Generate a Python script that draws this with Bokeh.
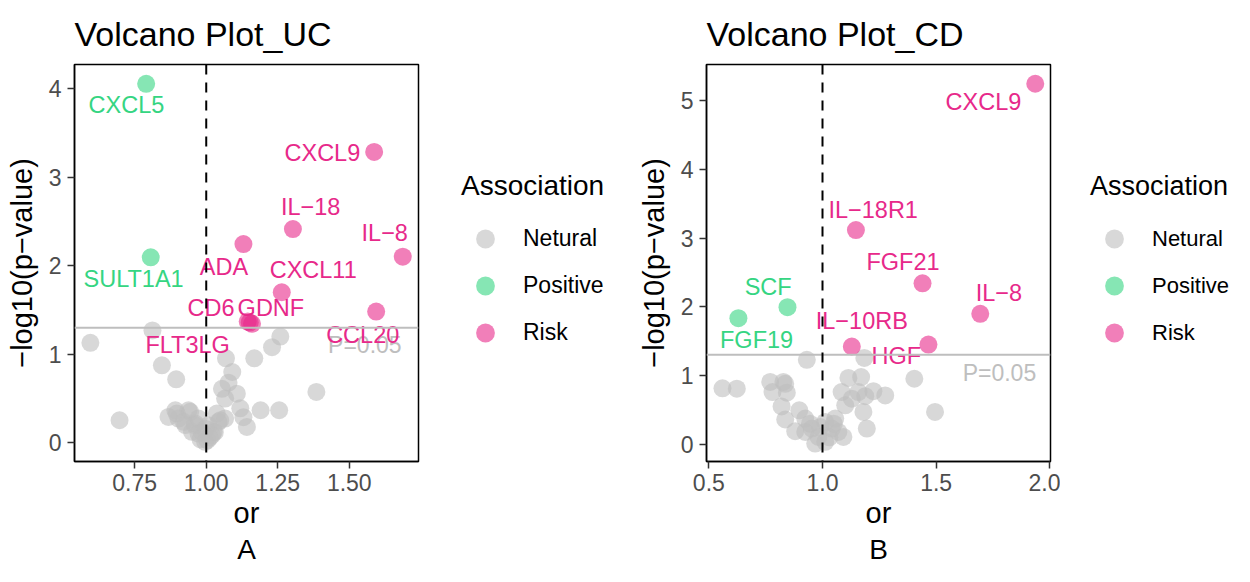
from bokeh.plotting import figure
from bokeh.models import (Range1d, FixedTicker, Span, Legend, LegendItem, Title,
                          ColumnDataSource, CustomJSTickFormatter)
from bokeh.layouts import row
from bokeh.core.properties import value
from bokeh.embed import file_html
from bokeh.resources import INLINE

FONT = "Liberation Sans"
CATEGORIES = ["Netural", "Positive", "Risk"]
COLORS = {"Netural": "#BEBEBE", "Positive": "#35D582", "Risk": "#E7298A"}

# ---------------- UC data ----------------
uc_neu_x = [0.595, 0.812, 0.845, 0.895, 0.697, 1.069, 1.091, 1.168, 1.230, 1.259,
            1.385, 1.255, 1.190, 1.055, 1.078, 1.107, 1.066, 1.119, 1.130, 1.142,
            0.892, 0.897, 0.938, 0.944, 0.903, 0.921, 0.927, 0.950, 0.962, 0.973,
            0.973, 0.996, 1.004, 1.008, 1.020, 1.026, 1.037, 1.043, 1.049, 1.066,
            0.868, 0.985, 1.030, 0.960, 0.997, 1.012, 0.980]
uc_neu_y = [1.130, 1.270, 0.875, 0.717, 0.255, 0.955, 0.800, 0.955, 1.080, 1.200,
            0.575, 0.368, 0.368, 0.610, 0.680, 0.555, 0.500, 0.390, 0.290, 0.180,
            0.368, 0.330, 0.368, 0.350, 0.274, 0.237, 0.200, 0.124, 0.217, 0.105,
            0.274, 0.011, 0.030, 0.199, 0.086, 0.124, 0.330, 0.237, 0.255, 0.274,
            0.293, 0.120, 0.120, 0.200, 0.160, 0.060, 0.040]
uc_pos_x = [0.790, 0.806]
uc_pos_y = [4.056, 2.096]
uc_risk_x = [1.587, 1.303, 1.687, 1.130, 1.264, 1.594, 1.145, 1.160, 1.152]
uc_risk_y = [3.286, 2.415, 2.103, 2.246, 1.701, 1.483, 1.370, 1.345, 1.360]
uc_lab_text = ["CXCL5", "SULT1A1", "CXCL9", "IL\u221218", "IL\u22128", "ADA",
               "CXCL11", "CD6", "GDNF", "CCL20", "FLT3LG"]
uc_lab_cat = ["Positive", "Positive", "Risk", "Risk", "Risk", "Risk",
              "Risk", "Risk", "Risk", "Risk", "Risk"]
uc_lab_x = [0.721, 0.746, 1.406, 1.365, 1.624, 1.062, 1.374, 1.017, 1.226, 1.547, 0.935]
uc_lab_y = [3.815, 1.848, 3.273, 2.659, 2.375, 1.983, 1.953, 1.523, 1.523, 1.222, 1.105]
uc_xticks = [0.75, 1.00, 1.25, 1.50]
uc_yticks = [0, 1, 2, 3, 4]
uc_pval_x = [1.683]
uc_pval_y = [1.107]

# ---------------- CD data ----------------
cd_neu_x = [0.560, 0.623, 0.770, 0.828, 0.836, 0.843, 0.780, 0.931, 0.820, 0.898,
            0.836, 0.880, 1.184, 1.114, 1.170, 1.084, 1.129, 1.188, 1.224, 1.276,
            1.404, 1.180, 1.195, 1.495, 1.158, 1.100, 0.924, 0.953, 0.982, 1.012,
            1.041, 1.070, 0.968, 1.056, 1.092, 1.012, 0.924, 0.990, 1.030, 1.050, 0.945]
cd_neu_y = [0.813, 0.808, 0.906, 0.906, 0.880, 0.750, 0.760, 1.229, 0.550, 0.494,
            0.360, 0.190, 1.256, 0.965, 0.978, 0.760, 0.663, 0.700, 0.772, 0.711,
            0.953, 0.470, 0.228, 0.470, 0.760, 0.566, 0.373, 0.228, 0.107, 0.035,
            0.228, 0.180, 0.010, 0.373, 0.107, 0.325, 0.180, 0.250, 0.100, 0.300, 0.300]
cd_pos_x = [0.846, 0.630]
cd_pos_y = [1.994, 1.834]
cd_risk_x = [1.936, 1.147, 1.440, 1.694, 1.129, 1.466]
cd_risk_y = [5.245, 3.116, 2.342, 1.897, 1.422, 1.451]
cd_lab_text = ["CXCL9", "IL\u221218R1", "FGF21", "IL\u22128", "SCF", "FGF19",
               "IL\u221210RB", "HGF"]
cd_lab_cat = ["Risk", "Risk", "Risk", "Risk", "Positive", "Positive", "Risk", "Risk"]
cd_lab_x = [1.708, 1.223, 1.354, 1.776, 0.761, 0.710, 1.173, 1.325]
cd_lab_y = [4.980, 3.409, 2.652, 2.204, 2.289, 1.522, 1.788, 1.280]
cd_xticks = [0.5, 1.0, 1.5, 2.0]
cd_yticks = [0, 1, 2, 3, 4, 5]
cd_pval_x = [1.940]
cd_pval_y = [1.040]

P_LINE = 1.30103
OR_LINE = 1.0

H = 566
TOP = 63
BOTTOM = 105


def make_panel(title, caption, xr, yr, xticks, decimals, yticks,
               neu, pos, risk, labs, pval):
    p = figure(width=428, height=H, output_backend="svg", toolbar_location=None,
               x_range=Range1d(*xr), y_range=Range1d(*yr),
               min_border_left=74, min_border_right=10,
               min_border_top=TOP, min_border_bottom=BOTTOM)
    p.background_fill_color = "white"
    p.border_fill_color = "white"
    p.outline_line_color = "black"
    p.outline_line_width = 1.5
    p.xgrid.visible = False
    p.ygrid.visible = False

    p.title.text = title
    p.title.text_font = FONT
    p.title.text_font_size = "34px"
    p.title.text_font_style = "normal"
    p.title.text_color = "black"
    p.title.standoff = 24

    for ax in (p.xaxis[0], p.yaxis[0]):
        ax.axis_line_color = "black"
        ax.axis_line_width = 1.5
        ax.major_tick_line_color = "#333333"
        ax.major_tick_line_width = 1.5
        ax.major_tick_out = 7
        ax.major_tick_in = 0
        ax.minor_tick_line_color = None
        ax.major_label_text_font = FONT
        ax.major_label_text_font_size = "23px"
        ax.major_label_text_color = "#4D4D4D"
        ax.axis_label_text_font = FONT
        ax.axis_label_text_font_size = "29px"
        ax.axis_label_text_font_style = "normal"
        ax.axis_label_text_color = "black"

    p.xaxis.ticker = FixedTicker(ticks=xticks)
    p.xaxis.formatter = CustomJSTickFormatter(code="return tick.toFixed(%d);" % decimals)
    p.yaxis.ticker = FixedTicker(ticks=yticks)
    p.xaxis.axis_label = "or"
    p.yaxis.axis_label = "\u2212log10(p\u2212value)"
    p.xaxis.major_label_standoff = 5
    p.xaxis.axis_label_standoff = 3
    p.yaxis.major_label_standoff = 6
    p.yaxis.axis_label_standoff = 8

    p.add_layout(Span(location=P_LINE, dimension="width", line_color="#BEBEBE",
                      line_width=2))
    p.add_layout(Span(location=OR_LINE, dimension="height", line_color="black",
                      line_width=2, line_dash="10 8"))

    for cat, (xs, ys) in zip(CATEGORIES, (neu, pos, risk)):
        p.scatter(xs, ys, size=18, fill_color=COLORS[cat], fill_alpha=0.6,
                  line_color=None)

    p.text(x=[pval[0][0]], y=[pval[1][0]], text=["P=0.05"], text_color="#BEBEBE",
           text_font=value(FONT), text_font_size="23px", text_align="right",
           text_baseline="middle")

    lx, ly, lt, lc = labs
    src = ColumnDataSource(dict(x=lx, y=ly, t=lt, c=[COLORS[c] for c in lc]))
    p.text(x="x", y="y", text="t", text_color="c", source=src,
           text_font=value(FONT), text_font_size="23.5px",
           text_align="center", text_baseline="middle")

    cap = Title(text=caption, align="center", text_font=FONT, text_font_size="28px",
                text_font_style="normal", text_color="black", standoff=0)
    p.add_layout(cap, "below")
    return p


def make_legend(width, offset, title_size, label_size):
    lf = figure(width=width, height=H, output_backend="svg", toolbar_location=None,
                x_range=Range1d(0, 1), y_range=Range1d(0, 1),
                min_border_left=0, min_border_right=0,
                min_border_top=TOP, min_border_bottom=BOTTOM)
    lf.axis.visible = False
    lf.grid.visible = False
    lf.outline_line_color = None
    lf.background_fill_color = "white"
    lf.border_fill_color = "white"
    items = []
    for cat in CATEGORIES:
        # one key marker per class, kept outside the visible range (legend key only)
        r = lf.scatter(x=[-5], y=[-5], size=18, fill_color=COLORS[cat], fill_alpha=0.6,
                       line_color=None)
        items.append(LegendItem(label=cat, renderers=[r]))
    legend = Legend(items=items, location=(offset, 105), title="Association")
    legend.title_text_font = FONT
    legend.title_text_font_size = title_size
    legend.title_text_font_style = "normal"
    legend.title_text_color = "black"
    legend.title_standoff = 13
    legend.label_text_font = FONT
    legend.label_text_font_size = label_size
    legend.label_text_color = "black"
    legend.glyph_width = 48
    legend.glyph_height = 47
    legend.label_height = 47
    legend.label_standoff = 14
    legend.spacing = 0
    legend.padding = 0
    legend.margin = 0
    legend.border_line_color = None
    legend.background_fill_alpha = 0
    lf.add_layout(legend, "center")
    return lf


p1 = make_panel("Volcano Plot_UC", "A", (0.5395, 1.742), (-0.211, 4.274), uc_xticks, 2,
                uc_yticks, (uc_neu_x, uc_neu_y), (uc_pos_x, uc_pos_y),
                (uc_risk_x, uc_risk_y), (uc_lab_x, uc_lab_y, uc_lab_text, uc_lab_cat),
                (uc_pval_x, uc_pval_y))
l1 = make_legend(204, 33, "28px", "23px")
p2 = make_panel("Volcano Plot_CD", "B", (0.4897, 2.003), (-0.251, 5.525), cd_xticks, 1,
                cd_yticks, (cd_neu_x, cd_neu_y), (cd_pos_x, cd_pos_y),
                (cd_risk_x, cd_risk_y), (cd_lab_x, cd_lab_y, cd_lab_text, cd_lab_cat),
                (cd_pval_x, cd_pval_y))
l2 = make_legend(174, 30, "27px", "22px")

layout = row(p1, l1, p2, l2)
open("out.html", "w").write(file_html(layout, INLINE))
